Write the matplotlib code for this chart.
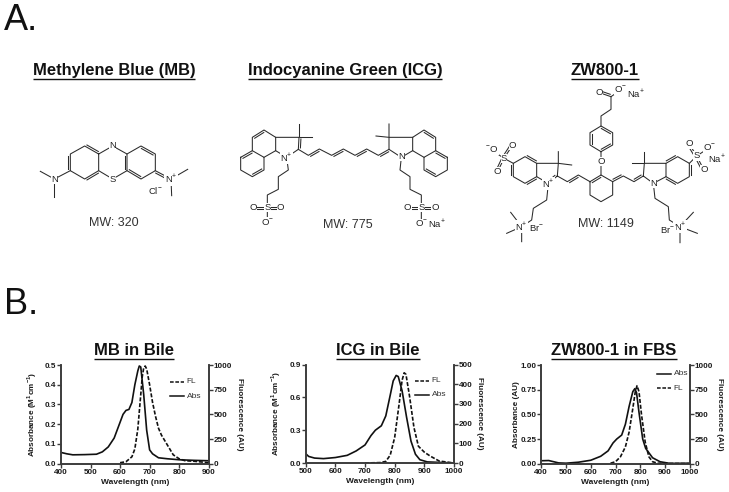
import numpy as np
import matplotlib
matplotlib.use('Agg')
import matplotlib.pyplot as plt

plt.rcParams['font.family'] = ['Liberation Sans', 'DejaVu Sans']
plt.rcParams['mathtext.fontset'] = 'custom'
plt.rcParams['mathtext.bf'] = 'Liberation Sans:bold'
plt.rcParams['mathtext.rm'] = 'Liberation Sans'

W, H = 729, 492
INK = '#1c1c1c'
AXC = '#3c3c3c'
DASH = (0, (2.4, 1.1))

# spectra
mb_abs_x = [400, 420, 440, 480, 520, 540, 560, 580, 600, 610, 620, 630, 640, 650, 660, 665, 670, 675, 680, 690, 700, 710, 730, 760, 800, 850, 900]
mb_abs_y = [0.057, 0.05, 0.045, 0.046, 0.048, 0.06, 0.085, 0.13, 0.21, 0.25, 0.27, 0.275, 0.31, 0.40, 0.47, 0.495, 0.49, 0.42, 0.35, 0.17, 0.07, 0.05, 0.03, 0.025, 0.02, 0.017, 0.015]
mb_fl_x = [600, 620, 640, 650, 660, 670, 675, 680, 685, 690, 700, 710, 720, 730, 740, 750, 760, 780, 800, 820, 850, 900]
mb_fl_y = [10, 20, 70, 150, 350, 700, 880, 970, 990, 960, 800, 620, 480, 360, 290, 240, 190, 90, 50, 30, 25, 10]

icg_abs_x = [500, 510, 530, 560, 600, 640, 670, 700, 720, 735, 755, 770, 785, 795, 805, 812, 825, 840, 855, 870, 885, 910, 1000]
icg_abs_y = [0.085, 0.06, 0.045, 0.04, 0.05, 0.07, 0.11, 0.165, 0.25, 0.30, 0.34, 0.43, 0.62, 0.75, 0.80, 0.79, 0.66, 0.42, 0.20, 0.08, 0.03, 0.01, 0.0]
icg_fl_x = [700, 750, 770, 785, 800, 815, 825, 832, 838, 850, 865, 880, 900, 920, 950, 1000]
icg_fl_y = [0, 2, 8, 40, 130, 300, 420, 458, 450, 340, 180, 85, 55, 35, 10, 0]

zw_abs_x = [400, 430, 450, 470, 500, 550, 600, 640, 670, 690, 705, 725, 740, 755, 770, 778, 785, 795, 810, 822, 850, 880, 920, 1000]
zw_abs_y = [0.03, 0.032, 0.02, 0.008, 0.005, 0.015, 0.035, 0.075, 0.13, 0.21, 0.25, 0.29, 0.40, 0.58, 0.73, 0.76, 0.72, 0.52, 0.25, 0.155, 0.06, 0.02, 0.003, 0.005]
zw_fl_x = [680, 700, 720, 740, 755, 770, 780, 787, 795, 805, 820, 835, 850, 870, 1000]
zw_fl_y = [5, 20, 70, 170, 320, 560, 730, 790, 730, 500, 220, 70, 20, 5, 0]


def ax_px(fig, l, t, r, b):
    return fig.add_axes([l / W, 1 - b / H, (r - l) / W, (b - t) / H])


def panel(fig, box, title, title_x, abs_xy, fl_xy, xlim, xticks, ylim, yticks, yfmt, rlim, rticks, ylabel, order, leg_xy, lab_off):
    ax = ax_px(fig, *box)
    ax.plot(*abs_xy, color='#111111', lw=1.2)
    ax.set_xlim(xlim)
    ax.set_ylim(ylim)
    ax.set_xticks(xticks)
    ax.set_yticks(yticks)
    ax.set_yticklabels([yfmt % v for v in yticks])
    ax2 = ax.twinx()
    ax2.plot(*fl_xy, color='#111111', lw=1.2, ls=DASH)
    ax2.set_ylim(rlim)
    ax2.set_yticks(rticks)
    for a in (ax, ax2):
        a.patch.set_visible(False)
        a.spines['top'].set_visible(False)
        for s in a.spines.values():
            s.set_linewidth(1.2)
            s.set_color(AXC)
        a.tick_params(length=2.6, width=1.0, color=AXC, labelsize=5.9, pad=1, labelcolor=INK)
        for t in a.get_xticklabels() + a.get_yticklabels():
            t.set_fontweight('bold')
    w = box[2] - box[0]
    ax.set_xlabel('Wavelength (nm)', fontsize=6.0, fontweight='bold', color=INK, labelpad=2.5)
    ax.set_ylabel(ylabel, fontsize=5.9, fontweight='bold', color=INK)
    ax.yaxis.set_label_coords(-lab_off[0] / w, 0.5)
    ax2.set_ylabel('Fluorescence (AU)', fontsize=5.9, fontweight='bold', color=INK, rotation=270, va='center')
    ax2.yaxis.set_label_coords(1 + lab_off[1] / w, 0.5)
    for i, name in enumerate(order):
        yy = leg_xy[1] + i * 14.5
        over.plot([leg_xy[0], leg_xy[0] + 14], [yy, yy], color='#111111', lw=1.1,
                  ls='-' if name == 'Abs' else DASH)
        over.text(leg_xy[0] + 16.5, yy, name, fontsize=6.0, va='center', color='#333333')
    label(title_x, 350.5, title, 12, bold=True, ul=True)


def label(x, y, s, size, bold=False, ul=False, ha='center', color='#111111'):
    t = over.text(x, y, s, fontsize=size, fontweight='bold' if bold else 'normal',
                  ha=ha, va='center', color=color, zorder=5)
    if ul:
        bb = t.get_window_extent(renderer=fig.canvas.get_renderer())
        over.plot([bb.x0, bb.x1], [y + 8.2, y + 8.2], color='#111111', lw=1.0, solid_capstyle='butt')


def chain(pts, x0, y0, double=(), side=1):
    # pts are in zoom pixels (3x), double lists segment indexes drawn twice
    p = np.array(pts, float) / 3 + [x0, y0]
    over.plot(p[:, 0], p[:, 1], color='#2a2a2a', lw=0.75, solid_joinstyle='miter')
    for i in double:
        a, b = p[i], p[i + 1]
        d = (b - a) / np.hypot(*(b - a))
        n = np.array([-d[1], d[0]]) * side * 2.0
        over.plot([a[0] + n[0] + d[0] * 1.5, b[0] + n[0] - d[0] * 1.5],
                  [a[1] + n[1] + d[1] * 1.5, b[1] + n[1] - d[1] * 1.5], color='#2a2a2a', lw=0.75)


def atom(x, y, s, x0, y0, size=6.8):
    over.text(x / 3 + x0, y / 3 + y0, s, fontsize=size, ha='center', va='center', color='#222222',
              bbox=dict(fc='white', ec='none', pad=0.2), zorder=4)


fig = plt.figure(figsize=(W / 100, H / 100), dpi=100)
over = fig.add_axes([0, 0, 1, 1])
over.set_xlim(0, W)
over.set_ylim(H, 0)
over.axis('off')

label(4, 20.5, 'A.', 26, ha='left')
label(4, 305, 'B.', 26, ha='left')
label(114, 70.5, 'Methylene Blue (MB)', 11.9, bold=True, ul=True)
label(345, 70.5, 'Indocyanine Green (ICG)', 12, bold=True, ul=True)
label(605, 70.5, 'ZW800-1', 12, bold=True, ul=True)
label(114, 223, 'MW: 320', 9, color='#333333')
label(348, 225, 'MW: 775', 9, color='#333333')
label(606, 224, 'MW: 1149', 9, color='#333333')

# methylene blue
chain([(338, 438), (296, 462), (254, 438), (211, 462), (211, 512), (254, 537), (296, 512), (296, 462)], 0, 0, double=[1, 3, 5], side=1)
chain([(296, 512), (338, 537), (381, 512), (381, 462), (338, 438)], 0, 0, double=[2], side=-1)
chain([(381, 462), (423, 438), (466, 462), (466, 512), (423, 537), (381, 512)], 0, 0, double=[1, 4], side=1)
chain([(121, 514), (163, 537), (211, 512)], 0, 0)
chain([(163, 537), (163, 590)], 0, 0)
chain([(466, 512), (513, 537)], 0, 0, double=[0])
chain([(563, 508), (513, 537), (515, 587)], 0, 0)
for x, y, s in [(338, 438, 'N'), (338, 537, 'S'), (163, 537, 'N'), (513, 537, 'N$^{+}$'), (465, 573, 'Cl$^{-}$')]:
    atom(x, y, s, 0, 0)

# indocyanine green
X0, Y0 = 220, 50
chain([(62, 322), (97, 302), (132, 322), (132, 360), (97, 380), (62, 360), (62, 322)], X0, Y0, double=[0, 3], side=1)
chain([(97, 302), (97, 262), (132, 240), (167, 262), (167, 302), (132, 322)], X0, Y0, double=[1], side=1)
chain([(167, 262), (237, 262), (235, 298), (200, 322), (167, 302)], X0, Y0, double=[1], side=-1)
chain([(237, 222), (237, 262), (277, 262)], X0, Y0)
chain([(235, 298), (265, 316), (298, 297), (335, 316), (370, 297), (405, 316), (440, 297), (475, 316), (507, 298)], X0, Y0, double=[1, 3, 5, 7], side=1)
chain([(682, 322), (647, 302), (612, 322), (612, 360), (647, 380), (682, 360), (682, 322)], X0, Y0, double=[0, 3], side=-1)
chain([(647, 302), (647, 262), (612, 240), (578, 262), (578, 302), (612, 322)], X0, Y0, double=[1], side=-1)
chain([(578, 262), (507, 262), (507, 298), (544, 322), (578, 302)], X0, Y0)
chain([(507, 222), (507, 262), (468, 258)], X0, Y0)
chain([(200, 322), (205, 360), (175, 380), (175, 418), (142, 435), (142, 472), (142, 518)], X0, Y0)
chain([(100, 472), (142, 472), (182, 472)], X0, Y0, double=[0, 1])
chain([(544, 322), (540, 360), (570, 380), (570, 418), (604, 435), (604, 472), (604, 522)], X0, Y0)
chain([(563, 472), (604, 472), (645, 472)], X0, Y0, double=[0, 1])
for x, y, s in [(200, 322, 'N$^{+}$'), (544, 320, 'N'), (142, 472, 'S'), (100, 472, 'O'), (182, 472, 'O'),
                (142, 518, 'O$^{-}$'), (604, 472, 'S'), (563, 472, 'O'), (645, 472, 'O'), (604, 522, 'O$^{-}$'),
                (652, 522, 'Na$^{+}$')]:
    atom(x, y, s, X0, Y0)

# ZW800-1
X0, Y0 = 480, 50
chain([(330, 395), (363, 375), (398, 395), (398, 435), (363, 455), (330, 435), (330, 395)], X0, Y0, double=[0], side=1)
chain([(363, 375), (363, 305), (330, 285), (330, 248), (363, 228), (398, 248), (398, 285), (363, 305)], X0, Y0, double=[2, 4, 6], side=1)
chain([(363, 228), (363, 198), (393, 178), (393, 140), (425, 118)], X0, Y0)
chain([(393, 140), (358, 128)], X0, Y0, double=[0])
chain([(330, 395), (295, 375), (262, 395), (232, 378)], X0, Y0, double=[1], side=-1)
chain([(398, 395), (430, 378), (462, 395), (490, 378)], X0, Y0, double=[0, 2], side=-1)
chain([(232, 378), (235, 340), (170, 340), (170, 380), (205, 400), (232, 378)], X0, Y0, double=[4], side=-1)
chain([(235, 305), (235, 340), (275, 345)], X0, Y0)
chain([(170, 340), (135, 320), (100, 340), (100, 380), (135, 400), (170, 380)], X0, Y0, double=[0, 2, 4], side=1)
chain([(100, 340), (72, 325), (35, 300)], X0, Y0)
chain([(98, 285), (72, 325), (53, 365)], X0, Y0, double=[0, 1], side=1)
chain([(205, 400), (200, 450), (160, 475), (155, 510), (125, 530), (92, 487)], X0, Y0)
chain([(80, 550), (125, 530), (125, 575)], X0, Y0)
chain([(490, 378), (493, 340), (558, 340), (558, 380), (520, 400), (490, 378)], X0, Y0)
chain([(493, 305), (493, 340), (455, 340)], X0, Y0)
chain([(558, 340), (593, 320), (628, 340), (628, 380), (593, 400), (558, 380)], X0, Y0, double=[0, 2, 4], side=-1)
chain([(628, 340), (650, 318), (688, 293)], X0, Y0)
chain([(628, 282), (650, 318), (672, 360)], X0, Y0, double=[0, 1], side=1)
chain([(520, 400), (525, 445), (565, 470), (568, 510), (600, 530), (640, 487)], X0, Y0)
chain([(652, 550), (600, 530), (600, 578)], X0, Y0)
for x, y, s in [(363, 335, 'O'), (358, 128, 'O'), (422, 118, 'O$^{-}$'), (468, 130, 'Na$^{+}$'), (205, 400, 'N$^{+}$'),
                (520, 400, 'N'), (72, 325, 'S'), (98, 285, 'O'), (53, 365, 'O'), (35, 300, '$^{-}$O'),
                (125, 530, 'N$^{+}$'), (170, 535, 'Br$^{-}$'), (600, 530, 'N$^{+}$'), (564, 543, 'Br$^{-}$'),
                (650, 318, 'S'), (628, 282, 'O'), (672, 360, 'O'), (688, 293, 'O$^{-}$'), (712, 325, 'Na$^{+}$')]:
    atom(x, y, s, X0, Y0)

fig.canvas.draw()

panel(fig, (61, 365, 208.7, 463.7), 'MB in Bile', 134.5, (mb_abs_x, mb_abs_y), (mb_fl_x, mb_fl_y),
      (400, 900), [400, 500, 600, 700, 800, 900], (0, 0.5), [0, 0.1, 0.2, 0.3, 0.4, 0.5], '%.1f',
      (0, 1000), [0, 250, 500, 750, 1000], 'Absorbance (M$^{\\mathbf{1}}$cm$^{\\mathbf{-1}}$)', ['FL', 'Abs'], (170, 381.5), (22, 30.5))
panel(fig, (305.7, 364.5, 454, 463), 'ICG in Bile', 378, (icg_abs_x, icg_abs_y), (icg_fl_x, icg_fl_y),
      (500, 1000), [500, 600, 700, 800, 900, 1000], (0, 0.9), [0, 0.3, 0.6, 0.9], '%.1f',
      (0, 500), [0, 100, 200, 300, 400, 500], 'Absorbance (M$^{\\mathbf{1}}$cm$^{\\mathbf{-1}}$)', ['FL', 'Abs'], (415, 380.5), (22.5, 25.5))
panel(fig, (541.3, 365, 689.7, 463.7), 'ZW800-1 in FBS', 614, (zw_abs_x, zw_abs_y), (zw_fl_x, zw_fl_y),
      (400, 1000), [400, 500, 600, 700, 800, 900, 1000], (0, 1), [0, 0.25, 0.5, 0.75, 1], '%.2f',
      (0, 1000), [0, 250, 500, 750, 1000], 'Absorbance (AU)', ['Abs', 'FL'], (657, 373.5), (21, 29.5))

fig.savefig('out.png', dpi=100)
